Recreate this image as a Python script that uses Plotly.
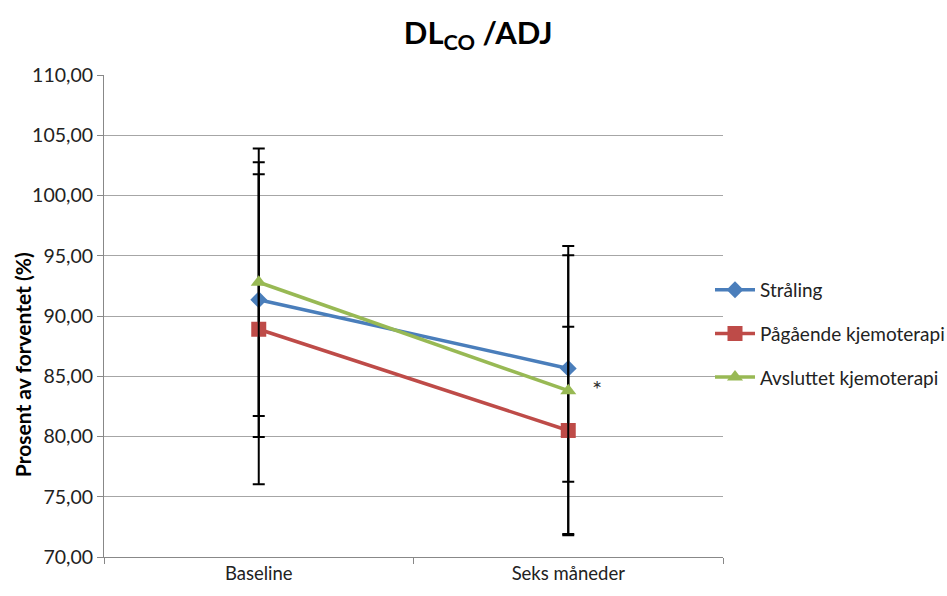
import plotly.graph_objects as go

categories = ["Baseline", "Seks måneder"]
series_names = ["Stråling", "Pågående kjemoterapi", "Avsluttet kjemoterapi"]
straaling = [91.35, 85.65]
straaling_err = [11.4, 9.4]
paagaaende = [88.9, 80.5]
paagaaende_err = [12.86, 8.6]
avsluttet = [92.8, 83.8]
avsluttet_err = [11.1, 12.0]
y_ticks = [70, 75, 80, 85, 90, 95, 100, 105, 110]

colors = ["#4A7EBB", "#BE4B48", "#98B954"]
symbols = ["diamond", "square", "triangle-up"]
sizes = [13, 15, 14]

fig = go.Figure()
for i, (name, vals, errs) in enumerate(zip(series_names,
                                          [straaling, paagaaende, avsluttet],
                                          [straaling_err, paagaaende_err, avsluttet_err])):
    fig.add_trace(go.Scatter(
        x=categories, y=vals, name=name, mode="lines+markers",
        line=dict(color=colors[i], width=3.5),
        marker=dict(symbol=symbols[i], size=sizes[i], color=colors[i]),
        error_y=dict(type="data", array=errs, visible=True, color="black",
                     thickness=2, width=6),
        legendgroup=name,
    ))

fig.add_annotation(x=1, y=84.0, xref="x", yref="y", text="*", showarrow=False,
                   xshift=29, font=dict(size=24, color="#333333", family="Lato"))

# y-axis title (placed as in the reference, slightly below the axis centre)
fig.add_annotation(x=-0.1325, y=0.40, xref="paper", yref="paper",
                   text="<b>Prosent av forventet (%)</b>", textangle=-90,
                   showarrow=False, xanchor="center", yanchor="middle",
                   font=dict(size=21, color="black", family="Lato"))

fig.update_layout(
    width=947, height=596,
    margin=dict(l=104, r=224, t=75, b=39, autoexpand=False),
    paper_bgcolor="white", plot_bgcolor="white",
    separators=", ",
    font=dict(family="Lato", size=18, color="#222222"),
    title=dict(text="<b>DL<sub>CO</sub> /ADJ</b>", x=0.505, xref="container",
               xanchor="center", y=0.945, yanchor="middle",
               font=dict(size=31, color="black", family="Lato")),
    showlegend=True,
    legend=dict(xref="paper", yref="paper", x=0.979, y=0.463,
                xanchor="left", yanchor="middle", traceorder="grouped",
                tracegroupgap=16, itemwidth=40,
                font=dict(size=19, color="#222222", family="Lato"),
                bgcolor="rgba(0,0,0,0)"),
    xaxis=dict(type="category", range=[-0.5, 1.5], showgrid=False,
               showline=True, linecolor="#888888", linewidth=1,
               ticks="outside", tickson="boundaries", ticklen=6,
               tickcolor="#888888", tickfont=dict(size=18.5)),
    yaxis=dict(range=[70, 110], tickvals=y_ticks, tickformat=".2f",
               showgrid=True, gridcolor="#A6A6A6", gridwidth=1,
               showline=True, linecolor="#888888", linewidth=1,
               ticks="outside", ticklen=6, tickcolor="#888888",
               tickfont=dict(size=19.5)),
)

fig.write_html("out.html")
